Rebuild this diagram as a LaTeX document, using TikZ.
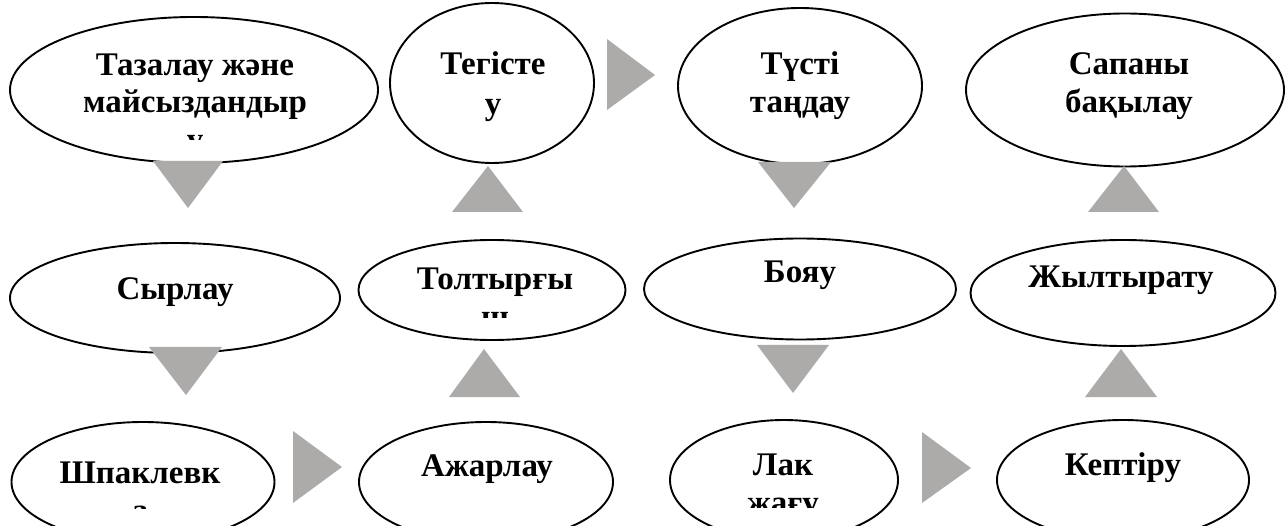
\documentclass[tikz,border=0pt]{standalone}
\usepackage{fontspec}
\setmainfont{Liberation Serif}
\usetikzlibrary{shapes.geometric}
\definecolor{trigrey}{RGB}{173,170,170}
\tikzset{
  ell/.style={draw=black, line width=1.9pt, ellipse, inner sep=0pt, fill=white},
  txt/.style={inner sep=0pt, anchor=base, font=\fontsize{33}{38}\selectfont\bfseries},
  tri/.style={fill=trigrey, draw=none}
}
\begin{document}
\begin{tikzpicture}[x=1pt, y=-1pt]
\useasboundingbox (0,0) rectangle (1287,526);
% row 1 ellipses
\node[ell, minimum width=368pt, minimum height=146pt] (e1) at (194,90) {};
\node[ell, minimum width=204pt, minimum height=160pt] (e2) at (492,83) {};
\node[ell, minimum width=244pt, minimum height=156pt] (e3) at (800,86) {};
\node[ell, minimum width=318pt, minimum height=153pt] (e4) at (1125,90) {};
% row 2 ellipses
\node[ell, minimum width=330pt, minimum height=110pt] (e5) at (175,298) {};
\node[ell, minimum width=267pt, minimum height=100pt] (e6) at (492,290) {};
\node[ell, minimum width=312pt, minimum height=101pt] (e7) at (800,289) {};
\node[ell, minimum width=305pt, minimum height=106pt] (e8) at (1123,293) {};
% row 3 ellipses
\node[ell, minimum width=263pt, minimum height=120pt] (e9) at (143,482) {};
\node[ell, minimum width=254pt, minimum height=120pt] (e10) at (486,482) {};
\node[ell, minimum width=228pt, minimum height=120pt] (e11) at (784,480) {};
\node[ell, minimum width=252pt, minimum height=120pt] (e12) at (1123,480) {};
% triangles
\fill[tri] (607,39) -- (655,75) -- (607,110) -- cycle;
\fill[tri] (153,161) -- (223,161) -- (188,208) -- cycle;
\fill[tri] (452,212) -- (523,212) -- (488,166) -- cycle;
\fill[tri] (758,162) -- (831,162) -- (794,208) -- cycle;
\fill[tri] (1088,212) -- (1159,212) -- (1124,166) -- cycle;
\fill[tri] (149,347) -- (222,347) -- (186,395) -- cycle;
\fill[tri] (449,397) -- (520,397) -- (484,349) -- cycle;
\fill[tri] (757,345) -- (829,345) -- (793,393) -- cycle;
\fill[tri] (1085,397) -- (1157,397) -- (1121,349) -- cycle;
\fill[tri] (293,431) -- (342,467) -- (293,503) -- cycle;
\fill[tri] (922,432) -- (971,468) -- (922,503) -- cycle;
% texts
\node[txt] (t1a) at (195,76) {Тазалау және};
\node[txt] (t1b) at (195,113) {майсыздандыр};
\begin{scope}
\clip (0,0) rectangle (1287,140);
\node[txt] (t1c) at (195,151) {у};
\end{scope}
\node[txt] (t2a) at (493,75) {Тегісте};
\node[txt] (t2b) at (493,115) {у};
\node[txt] (t3a) at (800,75) {Түсті};
\node[txt] (t3b) at (800,113) {таңдау};
\node[txt] (t4a) at (1129,75) {Сапаны};
\node[txt] (t4b) at (1129,113) {бақылау};
\node[txt] (t5) at (175,300) {Сырлау};
\node[txt] (t6a) at (495,290) {Толтырғы};
\begin{scope}
\clip (0,0) rectangle (1287,318);
\node[txt] (t6b) at (495,328) {ш};
\end{scope}
\node[txt] (t7) at (800,283) {Бояу};
\node[txt] (t8) at (1121,288) {Жылтырату};
\node[txt] (t9a) at (140,483) {Шпаклевк};
\begin{scope}
\clip (0,0) rectangle (1287,508);
\node[txt] (t9b) at (140,521) {а};
\end{scope}
\node[txt] (t10) at (487,476) {Ажарлау};
\node[txt] (t11a) at (783,475) {Лак};
\begin{scope}
\clip (0,0) rectangle (1287,507);
\node[txt] (t11b) at (783,513) {жағу};
\end{scope}
\node[txt] (t12) at (1123,475) {Кептіру};
\end{tikzpicture}
\end{document}
